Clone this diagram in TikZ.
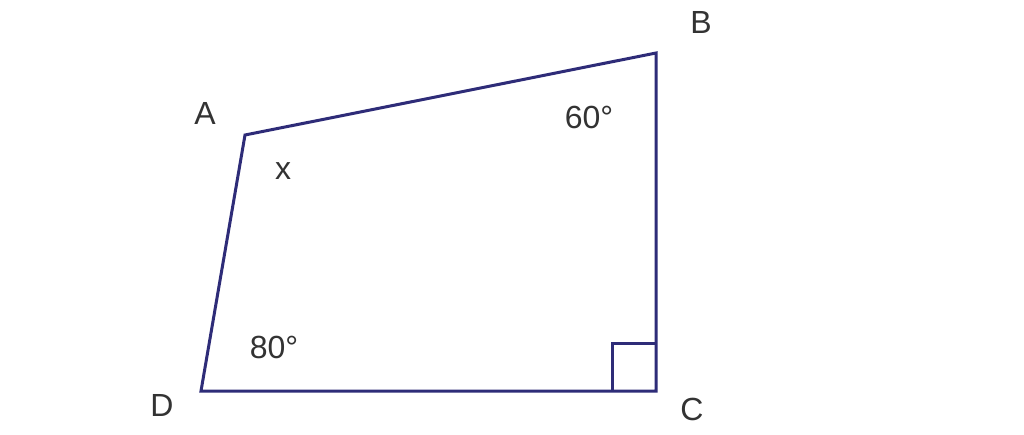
\documentclass[tikz,border=0pt]{standalone}
\usepackage{fontspec}
\setmainfont{Liberation Sans}
\definecolor{edge}{HTML}{2E2C78}
\definecolor{lbl}{HTML}{333333}
\begin{document}
\begin{tikzpicture}[x=1pt,y=-1pt,
  side/.style={draw=edge,line width=3pt,line join=miter},
  lab/.style={text=lbl,font=\fontsize{32}{36}\selectfont,inner sep=0pt,anchor=center}]
\useasboundingbox[fill=white] (0,0) rectangle (1024,435);
\coordinate (A) at (245,135);
\coordinate (B) at (656,53);
\coordinate (C) at (656,391);
\coordinate (D) at (201,391);
\coordinate (R1) at (612,391);
\coordinate (R2) at (612,343);
\coordinate (R3) at (656,343);
\draw[side] (A) -- (B) -- (C) -- (D) -- cycle;
\draw[side] (R1) -- (R2) -- (R3);
\node[lab] (lA) at (205,113) {A};
\node[lab] (lB) at (701,22) {B};
\node[lab] (lC) at (692,409) {C};
\node[lab] (lD) at (162,405) {D};
\node[lab] (lx) at (283,171) {x};
\node[lab] (l60) at (589,117) {60°};
\node[lab] (l80) at (274,347) {80°};
\end{tikzpicture}
\end{document}
